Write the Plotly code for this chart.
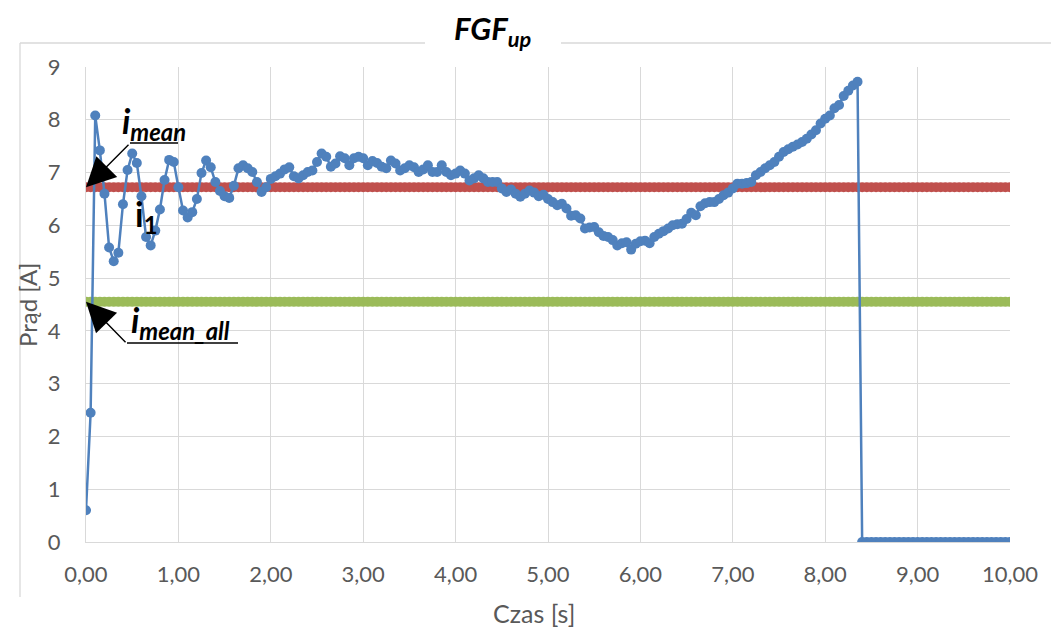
import plotly.graph_objects as go

# Measured current (A) sampled every 0.05 s until the drop-out, then zero
step = 0.05
current_on = [
    0.60, 2.45, 8.08, 7.42, 6.60, 5.58, 5.32, 5.48, 6.40, 7.05,
    7.36, 7.18, 6.55, 5.78, 5.62, 5.90, 6.30, 6.86, 7.24, 7.20,
    6.72, 6.28, 6.15, 6.25, 6.50, 6.99, 7.23, 7.10, 6.82, 6.65,
    6.55, 6.52, 6.75, 7.08, 7.14, 7.08, 7.01, 6.82, 6.63, 6.72,
    6.88, 6.93, 6.98, 7.06, 7.10, 6.93, 6.89, 6.95, 7.01, 7.04,
    7.20, 7.36, 7.30, 7.11, 7.17, 7.31, 7.27, 7.14, 7.27, 7.30,
    7.27, 7.14, 7.22, 7.18, 7.11, 7.08, 7.23, 7.17, 7.04, 7.08,
    7.14, 7.10, 7.01, 7.06, 7.14, 7.01, 7.01, 7.14, 7.01, 6.95,
    6.98, 7.04, 6.98, 6.85, 6.89, 6.95, 6.89, 6.82, 6.82, 6.82,
    6.70, 6.63, 6.68, 6.60, 6.54, 6.60, 6.66, 6.62, 6.55, 6.58,
    6.50, 6.44, 6.38, 6.41, 6.32, 6.18, 6.19, 6.13, 5.94, 5.96,
    5.97, 5.87, 5.80, 5.78, 5.72, 5.62, 5.66, 5.68, 5.54, 5.65,
    5.70, 5.71, 5.66, 5.78, 5.84, 5.89, 5.94, 6.00, 6.02, 6.03,
    6.12, 6.24, 6.19, 6.36, 6.42, 6.44, 6.44, 6.50, 6.57, 6.62,
    6.70, 6.79, 6.79, 6.80, 6.82, 6.95, 7.01, 7.08, 7.14, 7.20,
    7.30, 7.39, 7.44, 7.49, 7.53, 7.58, 7.64, 7.72, 7.80, 7.93,
    8.02, 8.08, 8.22, 8.28, 8.45, 8.55, 8.65, 8.72,
]
n_total = 201
current = current_on + [0.0] * (n_total - len(current_on))
time = [round(i * step, 2) for i in range(n_total)]

i_mean = 6.72
i_mean_all = 4.55
mean_series = [i_mean] * n_total
mean_all_series = [i_mean_all] * n_total

x_ticks = [0, 1, 2, 3, 4, 5, 6, 7, 8, 9, 10]
y_ticks = [0, 1, 2, 3, 4, 5, 6, 7, 8, 9]

BLUE = "#4f81bd"
RED = "#c0504d"
GREEN = "#9bbb59"
GRID = "#d9d9d9"
TEXT = "#595959"
FONT = "Lato, 'Open Sans', sans-serif"

W, H = 1051, 630
L, R, T, B = 86, 1010, 67, 542


def px(x):
    return (x - L) / (R - L)


def py(y):
    return (B - y) / (B - T)


fig = go.Figure()

fig.add_trace(go.Scatter(
    x=time, y=mean_series, mode="lines+markers", name="i_mean",
    line=dict(color=RED, width=2, dash="dot"),
    marker=dict(color=RED, size=10, line=dict(width=0)),
    showlegend=False, hoverinfo="skip",
))
fig.add_trace(go.Scatter(
    x=time, y=mean_all_series, mode="lines+markers", name="i_mean_all",
    line=dict(color=GREEN, width=2, dash="dot"),
    marker=dict(color=GREEN, size=10, line=dict(width=0)),
    showlegend=False, hoverinfo="skip",
))
fig.add_trace(go.Scatter(
    x=time, y=current, mode="lines+markers", name="i1",
    line=dict(color=BLUE, width=2.5),
    marker=dict(color=BLUE, size=10, line=dict(width=0)),
    showlegend=False,
))

# chart frame: left edge and a top edge broken by the title
frame = dict(color=GRID, width=1.3)
shapes = [
    dict(type="line", xref="paper", yref="paper", x0=px(20), x1=px(20), y0=py(43), y1=py(597), line=frame),
    dict(type="line", xref="paper", yref="paper", x0=px(20), x1=px(425), y0=py(43), y1=py(43), line=frame),
    dict(type="line", xref="paper", yref="paper", x0=px(561), x1=px(1060), y0=py(43), y1=py(43), line=frame),
    # underlines of the callouts
    dict(type="line", xref="paper", yref="paper", x0=px(130), x1=px(178), y0=py(143), y1=py(143),
         line=dict(color="black", width=1.5)),
    dict(type="line", xref="paper", yref="paper", x0=px(127), x1=px(238), y0=py(343), y1=py(343),
         line=dict(color="black", width=1.5)),
]

annotations = [
    # title
    dict(text="<b><i>FGF<sub>up</sub></i></b>", xref="paper", yref="paper",
         x=px(492), y=py(30), xanchor="center", yanchor="middle", showarrow=False,
         font=dict(family=FONT, size=31, color="black")),
    # axis titles
    dict(text="Czas [s]", xref="paper", yref="paper", x=px(534), y=py(613),
         xanchor="center", yanchor="middle", showarrow=False,
         font=dict(family=FONT, size=25, color=TEXT)),
    dict(text="Prąd [A]", xref="paper", yref="paper", x=px(27), y=py(305),
         xanchor="center", yanchor="middle", showarrow=False, textangle=-90,
         font=dict(family=FONT, size=24, color=TEXT)),
    # callout arrows
    dict(text="", x=0, y=i_mean, xref="x", yref="y", ax=44, ay=-44,
         showarrow=True, arrowhead=2, arrowsize=4.2, arrowwidth=1.4, arrowcolor="black"),
    dict(text="", x=0, y=i_mean_all, xref="x", yref="y", ax=41, ay=42,
         showarrow=True, arrowhead=2, arrowsize=4.2, arrowwidth=1.4, arrowcolor="black"),
    # callout labels
    dict(text="<b><i>i<sub>mean</sub></i></b>", xref="paper", yref="paper",
         x=px(120), y=py(148), xanchor="left", yanchor="bottom", showarrow=False,
         font=dict(family=FONT, size=34, color="black")),
    dict(text="<b><i>i<sub>mean_all</sub></i></b>", xref="paper", yref="paper",
         x=px(129), y=py(347), xanchor="left", yanchor="bottom", showarrow=False,
         font=dict(family=FONT, size=34, color="black")),
    dict(text="<b>i<sub>1</sub></b>", xref="paper", yref="paper",
         x=px(133), y=py(241), xanchor="left", yanchor="bottom", showarrow=False,
         font=dict(family=FONT, size=34, color="black")),
]

fig.update_layout(
    width=W, height=H,
    margin=dict(l=L, r=W - R, t=T, b=H - B),
    paper_bgcolor="white", plot_bgcolor="white",
    separators=", ",
    shapes=shapes, annotations=annotations,
    font=dict(family=FONT, color=TEXT),
)
fig.update_xaxes(
    range=[0, 10], tickvals=x_ticks, tickformat=".2f",
    showgrid=True, gridcolor=GRID, gridwidth=1,
    showline=True, linecolor=GRID, linewidth=1, zeroline=False,
    tickfont=dict(family=FONT, size=22, color=TEXT),
    ticks="", ticklabelstandoff=13,
)
fig.update_yaxes(
    range=[0, 9], tickvals=y_ticks,
    showgrid=True, gridcolor=GRID, gridwidth=1,
    showline=True, linecolor=GRID, linewidth=1, zeroline=False,
    tickfont=dict(family=FONT, size=22, color=TEXT),
    ticks="", ticklabelstandoff=20,
)

fig.write_html("out.html")
